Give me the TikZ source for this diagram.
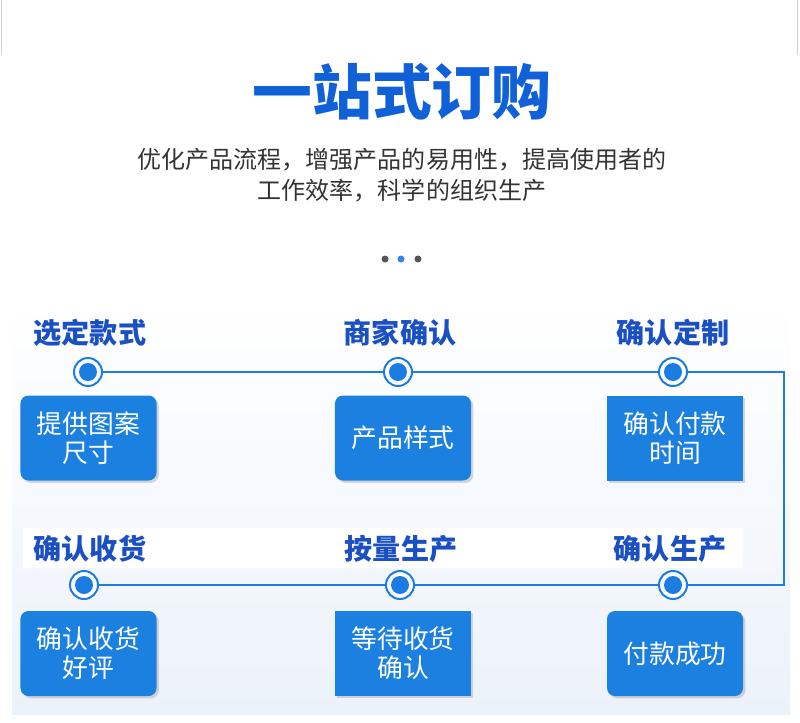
\documentclass[tikz,border=0pt]{standalone}
\usepackage{fontspec}
\setmainfont{Noto Sans CJK SC}
\usepackage{xcolor}
\usepackage{tikz}
\usetikzlibrary{shadows}
\definecolor{titleblue}{HTML}{1060D8}
\definecolor{labelblue}{HTML}{1A50C2}
\definecolor{lineblue}{HTML}{1B7DE2}
\definecolor{boxblue}{HTML}{1C80E1}
\definecolor{subgray}{HTML}{333333}
\definecolor{dotgray}{HTML}{555555}
\definecolor{dotblue}{HTML}{3A80F0}
\definecolor{panel}{HTML}{ECF2FA}

\begin{document}
\begin{tikzpicture}[x=0.03cm, y=-0.03cm,
  stop/.style={circle, draw=lineblue, line width=1.7pt, fill=white, minimum size=0.84cm, inner sep=0pt,
    path picture={\fill[lineblue] (path picture bounding box.center) circle (0.27cm);}},
  flow/.style={draw=lineblue, line width=1.7pt},
  steplabel/.style={text=labelblue, font=\bfseries\fontsize{24}{28}\selectfont, inner sep=0pt},
  stepbox/.style={rounded corners=0.24cm, fill=boxblue, text=white, align=center,
    minimum width=4.08cm, minimum height=2.55cm, inner sep=0pt,
    font=\fontsize{22}{25}\selectfont,
    drop shadow={shadow xshift=2pt, shadow yshift=-2pt, opacity=0.3}},
  flatbox/.style={stepbox, sharp corners}]
  \useasboundingbox (0,0) rectangle (800,723);
  % frame remnants and background panel
  \draw[black!18, line width=0.8pt] (1,0) -- (1,55) (797,0) -- (797,55);
  \shade[top color=white, bottom color=panel] (12,300) rectangle (790,714);
  \fill[white] (23,528) rectangle (743,568);

  \node[text=titleblue, font=\bfseries\fontsize{51}{55}\selectfont] (title) at (402,92) {一站式订购};
  \node[text=subgray, font=\fontsize{20.5}{26}\selectfont, align=center] (sub) at (402,175)
    {优化产品流程，增强产品的易用性，提高使用者的\\工作效率，科学的组织生产};
  \fill[dotgray] (385,259) circle (0.105cm);
  \fill[dotblue] (401,259) circle (0.105cm);
  \fill[dotgray] (418,259) circle (0.105cm);

  % top row
  \node[steplabel] (l1) at (90,333) {选定款式};
  \node[steplabel] (l2) at (400,333) {商家确认};
  \node[steplabel] (l3) at (673,333) {确认定制};
  \node[stop] (s1) at (88,372) {};
  \node[stop] (s2) at (398,372) {};
  \node[stop] (s3) at (673,372) {};
  \node[stepbox] (b1) at (88.5,438) {提供图案\\尺寸};
  \node[stepbox] (b2) at (403,438) {产品样式};
  \node[flatbox] (b3) at (675,438) {确认付款\\时间};

  % bottom row
  \node[steplabel] (l4) at (670,549) {确认生产};
  \node[steplabel] (l5) at (401,549) {按量生产};
  \node[steplabel] (l6) at (90,549) {确认收货};
  \node[stop] (s4) at (673,585) {};
  \node[stop] (s5) at (400,585) {};
  \node[stop] (s6) at (84,585) {};
  \node[stepbox] (b4) at (675,653.5) {付款成功};
  \node[flatbox] (b5) at (403,653.5) {等待收货\\确认};
  \node[stepbox] (b6) at (88.5,653.5) {确认收货\\好评};

  \coordinate (turn) at (784,372);
  \draw[flow] (s1) -- (s2);
  \draw[flow] (s2) -- (s3);
  \draw[flow] (s3) -- (turn) |- (s4);
  \draw[flow] (s4) -- (s5);
  \draw[flow] (s5) -- (s6);
\end{tikzpicture}
\end{document}
